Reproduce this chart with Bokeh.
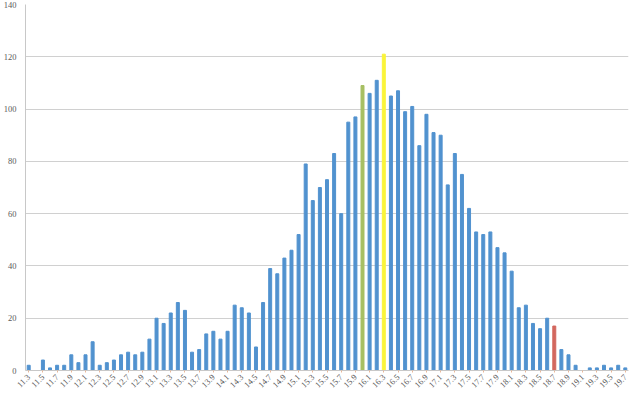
from math import pi
from bokeh.plotting import figure
from bokeh.models import ColumnDataSource, Range1d, FixedTicker
from bokeh.embed import file_html
from bokeh.resources import INLINE

categories = [f"{11.3 + 0.1 * i:.1f}" for i in range(85)]
values = [2, 0, 4, 1, 2, 2, 6, 3, 6, 11,
          2, 3, 4, 6, 7, 6, 7, 12, 20, 18,
          22, 26, 23, 7, 8, 14, 15, 12, 15, 25,
          24, 22, 9, 26, 39, 37, 43, 46, 52, 79,
          65, 70, 73, 83, 60, 95, 97, 109, 106, 111,
          121, 105, 107, 99, 101, 86, 98, 91, 90, 71,
          83, 75, 62, 53, 52, 53, 47, 45, 38, 24,
          25, 18, 16, 20, 17, 8, 6, 2, 0, 1,
          1, 2, 1, 2, 1]
highlight = {"16.0": "#A7BF63", "16.3": "#FAF43A", "18.7": "#D3675E"}
base_color = "#5192CF"

idx = list(range(len(categories)))
colors = [highlight.get(c, base_color) for c in categories]
src = ColumnDataSource(dict(x=idx, top=values, color=colors))

p = figure(frame_width=603, frame_height=366, output_backend="svg", toolbar_location=None,
           x_range=Range1d(-0.45, len(categories) - 0.55), y_range=Range1d(0, 140),
           min_border_left=16, min_border_right=5, min_border_top=4, min_border_bottom=21)
p.outline_line_color = None
p.vbar(x="x", top="top", width=0.42, color="color", source=src)

p.xgrid.grid_line_color = None
p.ygrid.grid_line_color = "#D0D0D0"
p.ygrid.grid_line_width = 1
p.yaxis.ticker = FixedTicker(ticks=[0, 20, 40, 60, 80, 100, 120, 140])
p.yaxis.axis_line_color = "#C8C8C8"
p.yaxis.major_tick_line_color = None
p.yaxis.minor_tick_line_color = None
p.yaxis.major_label_text_font = "Liberation Serif"
p.yaxis.major_label_text_font_size = "8.5px"
p.yaxis.major_label_text_color = "#595959"
p.yaxis.major_label_standoff = 3

label_ticks = idx[::2]
p.xaxis.ticker = FixedTicker(ticks=label_ticks)
p.xaxis.major_label_overrides = {i: categories[i] for i in label_ticks}
p.xaxis.major_label_orientation = pi / 4
p.xaxis.axis_line_color = "#C8C8C8"
p.xaxis.major_tick_line_color = "#E8B89A"
p.xaxis.major_tick_out = 2
p.xaxis.major_tick_in = 0
p.xaxis.minor_tick_line_color = None
p.xaxis.major_label_text_font = "Liberation Serif"
p.xaxis.major_label_text_font_size = "8.5px"
p.xaxis.major_label_text_color = "#595959"
p.xaxis.major_label_standoff = 3

open("out.html", "w").write(file_html(p, INLINE))
